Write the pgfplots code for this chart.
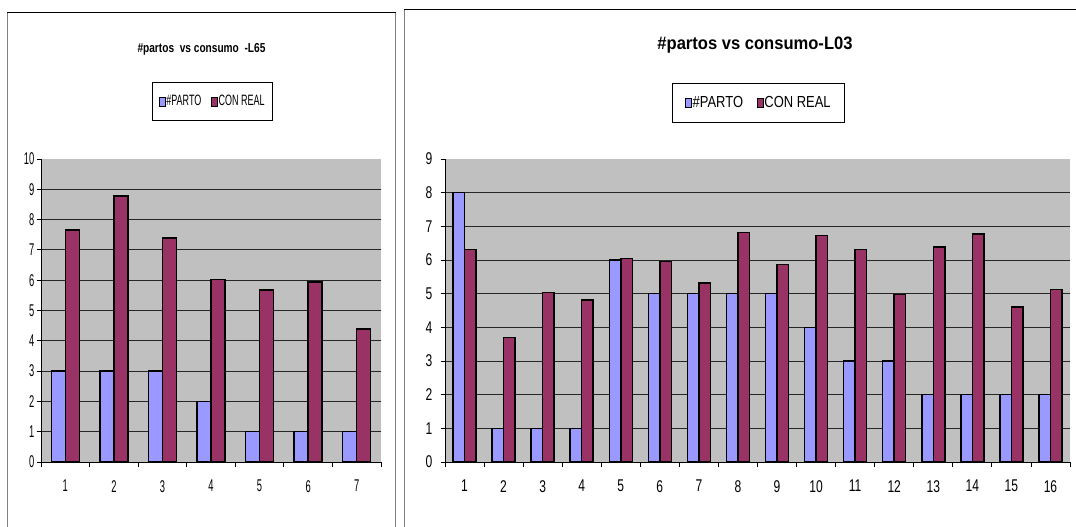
\documentclass[border=0pt]{standalone}
\usepackage{fontspec}
\setmainfont{Liberation Sans}
% narrow cuts of the same face for the two panels
\newfontfamily\Lfont{Liberation Sans}[FakeStretch=0.6]
\newfontfamily\Ltick{Liberation Sans}[FakeStretch=0.55]
\newfontfamily\Lttl{Liberation Sans}[FakeStretch=0.78]
\newfontfamily\Rfont{Liberation Sans}[FakeStretch=0.81]
\newfontfamily\Rtick{Liberation Sans}[FakeStretch=0.71]
\newfontfamily\Rttl{Liberation Sans}[FakeStretch=0.92]
\usepackage{pgfplots}
\pgfplotsset{compat=1.18}

\definecolor{parto}{HTML}{9999FF}
\definecolor{conreal}{HTML}{993366}
\definecolor{plotbg}{HTML}{C0C0C0}
\definecolor{framegray}{HTML}{808080}

\pgfplotsset{
  excelbars/.style={
    scale only axis, height=303bp,
    ymin=0, ybar=0pt, clip=false,
    axis background/.style={fill=plotbg},
    axis x line*=bottom, axis y line*=left,
    axis line style={black, line width=1bp},
    tick align=outside, major tick length=4.5bp, minor tick length=0pt,
    tick style={black, line width=0.9bp},
    yminorgrids, minor grid style={black!85, line width=1bp},
    xticklabels={},
    extra x tick style={major tick length=0pt},
    xticklabel style={anchor=north, inner sep=0pt, yshift=-18bp},
    yticklabel style={anchor=east, inner sep=0pt},
    /pgf/number format/assume math mode=true,
    every axis plot/.append style={draw=black, line width=1.5bp},
    legend columns=2,
    legend image code/.code={\draw[#1, draw=black, line width=0.8bp] (0bp,-4.5bp) rectangle (5.5bp,4.5bp);},
    legend style={anchor=center, draw=black, line width=0.8bp, fill=white,
      nodes={inner sep=1bp}, inner ysep=12bp},
  }
}

\begin{document}
\begin{tikzpicture}
\useasboundingbox (0,0) rectangle (1076bp,527bp);
\fill[white] (0,0) rectangle (1076bp,527bp);
\clip (0,0) rectangle (1076bp,527bp);

% panel frames
\draw[framegray, line width=1bp] (7bp,0) -- (7bp,514.3bp);
\draw[framegray, line width=1bp] (395.5bp,0) -- (395.5bp,514.3bp);
\draw[black, line width=1.2bp] (7bp,514.3bp) -- (395.5bp,514.3bp);
\draw[framegray, line width=1bp] (404bp,0) -- (404bp,517.5bp);
\draw[black, line width=1.2bp] (404bp,517.5bp) -- (1076bp,517.5bp);

% L65
\begin{axis}[excelbars,
  at={(41bp,65bp)}, anchor=south west,
  width=340bp, xmin=0.5, xmax=7.5, ymax=10,
  bar width=14bp,
  ytick={0,...,10}, minor ytick={1,...,9},
  xtick={0.5,1.5,...,7.5},
  extra x ticks={1,...,7}, extra x tick labels={1,2,3,4,5,6,7},
  tick label style={font=\Ltick\fontsize{17bp}{19bp}\selectfont},
  yticklabel style={xshift=-2bp},
  legend style={at={(0.504,1.19)}, font=\Lfont\fontsize{15bp}{17bp}\selectfont,
    inner xsep=7bp, /tikz/every even column/.append style={column sep=9bp}},
]
\addplot[fill=parto] coordinates {(1,3) (2,3) (3,3) (4,2) (5,1) (6,1) (7,1)};
\addplot[fill=conreal] coordinates {(1,7.65) (2,8.78) (3,7.39) (4,6.02) (5,5.67) (6,5.94) (7,4.39)};
\legend{\#PARTO, CON REAL}
\node[font=\Lttl\bfseries\fontsize{13bp}{15bp}\selectfont]
  at (rel axis cs:0.472,1.363) {\#partos\ \ vs consumo\ \ -L65};
\end{axis}

% L03
\begin{axis}[excelbars,
  at={(445bp,65bp)}, anchor=south west,
  width=625bp, xmin=0.5, xmax=16.5, ymax=9,
  bar width=11.5bp,
  ytick={0,...,9}, minor ytick={1,...,8},
  xtick={0.5,1.5,...,16.5},
  extra x ticks={1,...,16}, extra x tick labels={1,2,3,4,5,6,7,8,9,10,11,12,13,14,15,16},
  tick label style={font=\Rtick\fontsize{17bp}{19bp}\selectfont},
  yticklabel style={xshift=-8bp},
  legend style={at={(0.5016,1.186)}, font=\Rfont\fontsize{16bp}{18bp}\selectfont,
    inner xsep=13bp, /tikz/every even column/.append style={column sep=13bp}},
]
\addplot[fill=parto] coordinates {(1,8) (2,1) (3,1) (4,1) (5,6) (6,5) (7,5) (8,5)
  (9,5) (10,4) (11,3) (12,3) (13,2) (14,2) (15,2) (16,2)};
\addplot[fill=conreal] coordinates {(1,6.31) (2,3.70) (3,5.04) (4,4.81) (5,6.04) (6,5.95)
  (7,5.31) (8,6.82) (9,5.87) (10,6.73) (11,6.31) (12,4.97) (13,6.38) (14,6.77) (15,4.61) (16,5.12)};
\legend{\#PARTO, CON REAL}
\node[font=\Rttl\bfseries\fontsize{18bp}{20bp}\selectfont]
  at (rel axis cs:0.496,1.376) {\#partos vs consumo-L03};
\end{axis}
\end{tikzpicture}
\end{document}
